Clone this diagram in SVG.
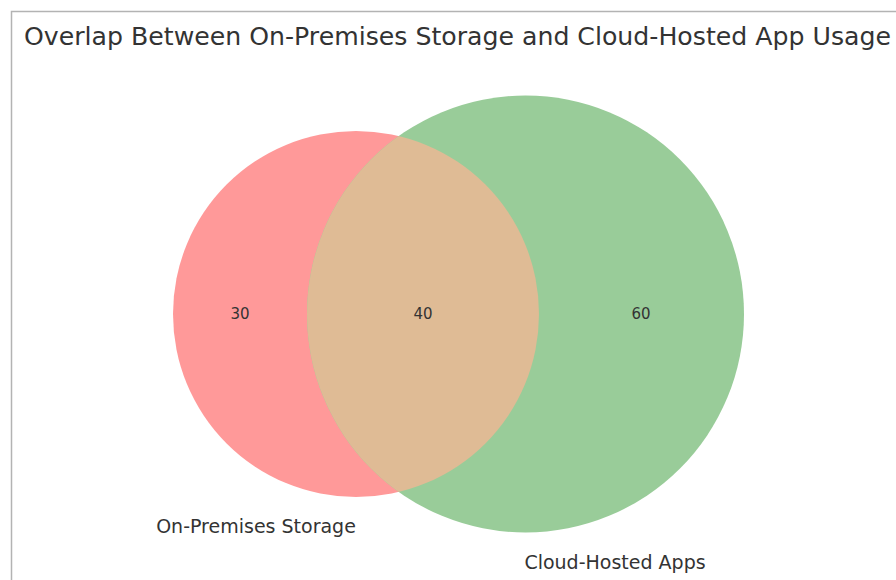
<svg xmlns="http://www.w3.org/2000/svg" width="896" height="580" viewBox="0 0 896 580">
<style>
text{font-family:"DejaVu Sans",sans-serif;fill:#333333}
.num{font-size:15px;text-anchor:middle;dominant-baseline:central}
.lbl{font-size:19px;text-anchor:middle;dominant-baseline:central}
</style>
<rect x="0" y="0" width="896" height="580" fill="#ffffff"/>
<rect x="11.5" y="11.5" width="900" height="600" fill="none" stroke="#b3b3b3" stroke-width="1.5"/>
<text x="24" y="45" font-size="25.2">Overlap Between On-Premises Storage and Cloud-Hosted App Usage</text>
<defs>
<clipPath id="cr"><circle cx="356" cy="314" r="183"/></clipPath>
</defs>
<g id="set-onprem"><circle cx="356" cy="314" r="183" fill="#ff9999"/></g>
<g id="set-cloud"><circle cx="525.5" cy="314" r="218.5" fill="#99cc99"/></g>
<g id="intersection"><circle cx="525.5" cy="314" r="218.5" fill="#dfbb95" clip-path="url(#cr)"/></g>
<text class="num" x="240" y="314">30</text>
<text class="num" x="423" y="314">40</text>
<text class="num" x="641" y="314">60</text>
<text class="lbl" x="256" y="526">On-Premises Storage</text>
<text class="lbl" x="615" y="562">Cloud-Hosted Apps</text>
</svg>
